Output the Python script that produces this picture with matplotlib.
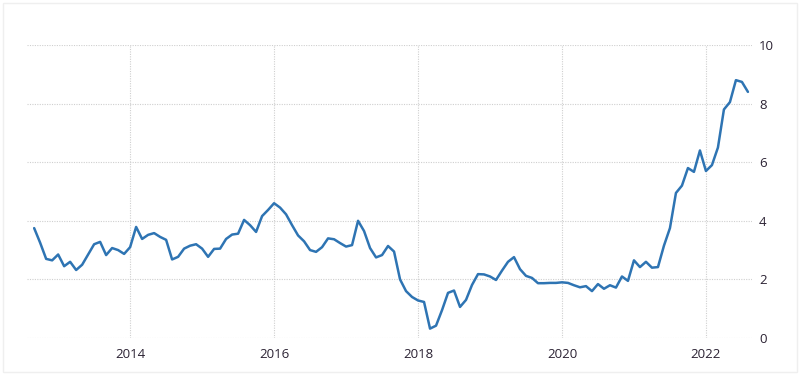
import numpy as np
import pandas as pd
import matplotlib
matplotlib.use("Agg")
import matplotlib.pyplot as plt
from matplotlib.patches import Rectangle

# monthly values, Sep 2012 .. Aug 2022
start_month = "2012-09"
values = [
    3.75, 3.25, 2.70, 2.65, 2.85, 2.45, 2.60, 2.32, 2.50, 2.85, 3.20, 3.28,   # Sep12-Aug13
    2.83, 3.07, 3.00, 2.87, 3.10, 3.79, 3.38, 3.52, 3.58, 3.45, 3.35, 2.68,   # Sep13-Aug14
    2.77, 3.05, 3.15, 3.20, 3.05, 2.77, 3.04, 3.05, 3.38, 3.53, 3.56, 4.03,   # Sep14-Aug15
    3.85, 3.62, 4.16, 4.37, 4.60, 4.45, 4.22, 3.85, 3.50, 3.30, 3.00, 2.94,   # Sep15-Aug16
    3.10, 3.40, 3.37, 3.24, 3.12, 3.17, 4.00, 3.65, 3.07, 2.75, 2.83, 3.14,   # Sep16-Aug17
    2.95, 2.00, 1.60, 1.40, 1.28, 1.23, 0.32, 0.42, 0.95, 1.54, 1.62, 1.06,   # Sep17-Aug18
    1.30, 1.81, 2.18, 2.17, 2.10, 1.98, 2.30, 2.60, 2.76, 2.35, 2.12, 2.05,   # Sep18-Aug19
    1.87, 1.87, 1.88, 1.88, 1.90, 1.88, 1.80, 1.73, 1.77, 1.60, 1.84, 1.68,   # Sep19-Aug20
    1.80, 1.72, 2.10, 1.95, 2.65, 2.42, 2.60, 2.40, 2.42, 3.15, 3.75, 4.95,   # Sep20-Aug21
    5.20, 5.80, 5.67, 6.40, 5.70, 5.90, 6.50, 7.80, 8.05, 8.80, 8.74, 8.40,   # Sep21-Aug22
]
year_ticks = [2014, 2016, 2018, 2020, 2022]
y_ticks = [0, 2, 4, 6, 8, 10]

dates = pd.date_range(start_month, periods=len(values), freq="MS")
t = dates.year + (dates.month - 1) / 12.0

fig = plt.figure(figsize=(8, 3.75), dpi=100)
ax = fig.add_axes([0.034, 0.0987, 0.906, 0.7813])

ax.plot(t, values, color="#2e74b3", linewidth=1.8, solid_joinstyle="round",
        solid_capstyle="round")

ax.set_xlim(2012.57, 2022.64)
ax.set_ylim(0, 10)
ax.set_xticks(year_ticks)
ax.set_xticklabels([str(y) for y in year_ticks])
ax.set_yticks(y_ticks)
ax.yaxis.tick_right()

ax.grid(True, linestyle=(0, (1, 1.2)), color="#cfcfcf", linewidth=0.8)
ax.set_axisbelow(True)
for s in ax.spines.values():
    s.set_visible(False)
ax.tick_params(axis="both", length=0, labelsize=9.5, colors="#2b2233")
ax.tick_params(axis="x", pad=7)
ax.tick_params(axis="y", pad=5)
for lab in ax.get_xticklabels() + ax.get_yticklabels():
    lab.set_fontfamily("Open Sans")

# faint frame around the picture
fig.patches.append(Rectangle((0.004, 0.008), 0.992, 0.984, transform=fig.transFigure,
                             fill=False, edgecolor="#efefef", linewidth=1))

fig.savefig("out.png", dpi=100)
